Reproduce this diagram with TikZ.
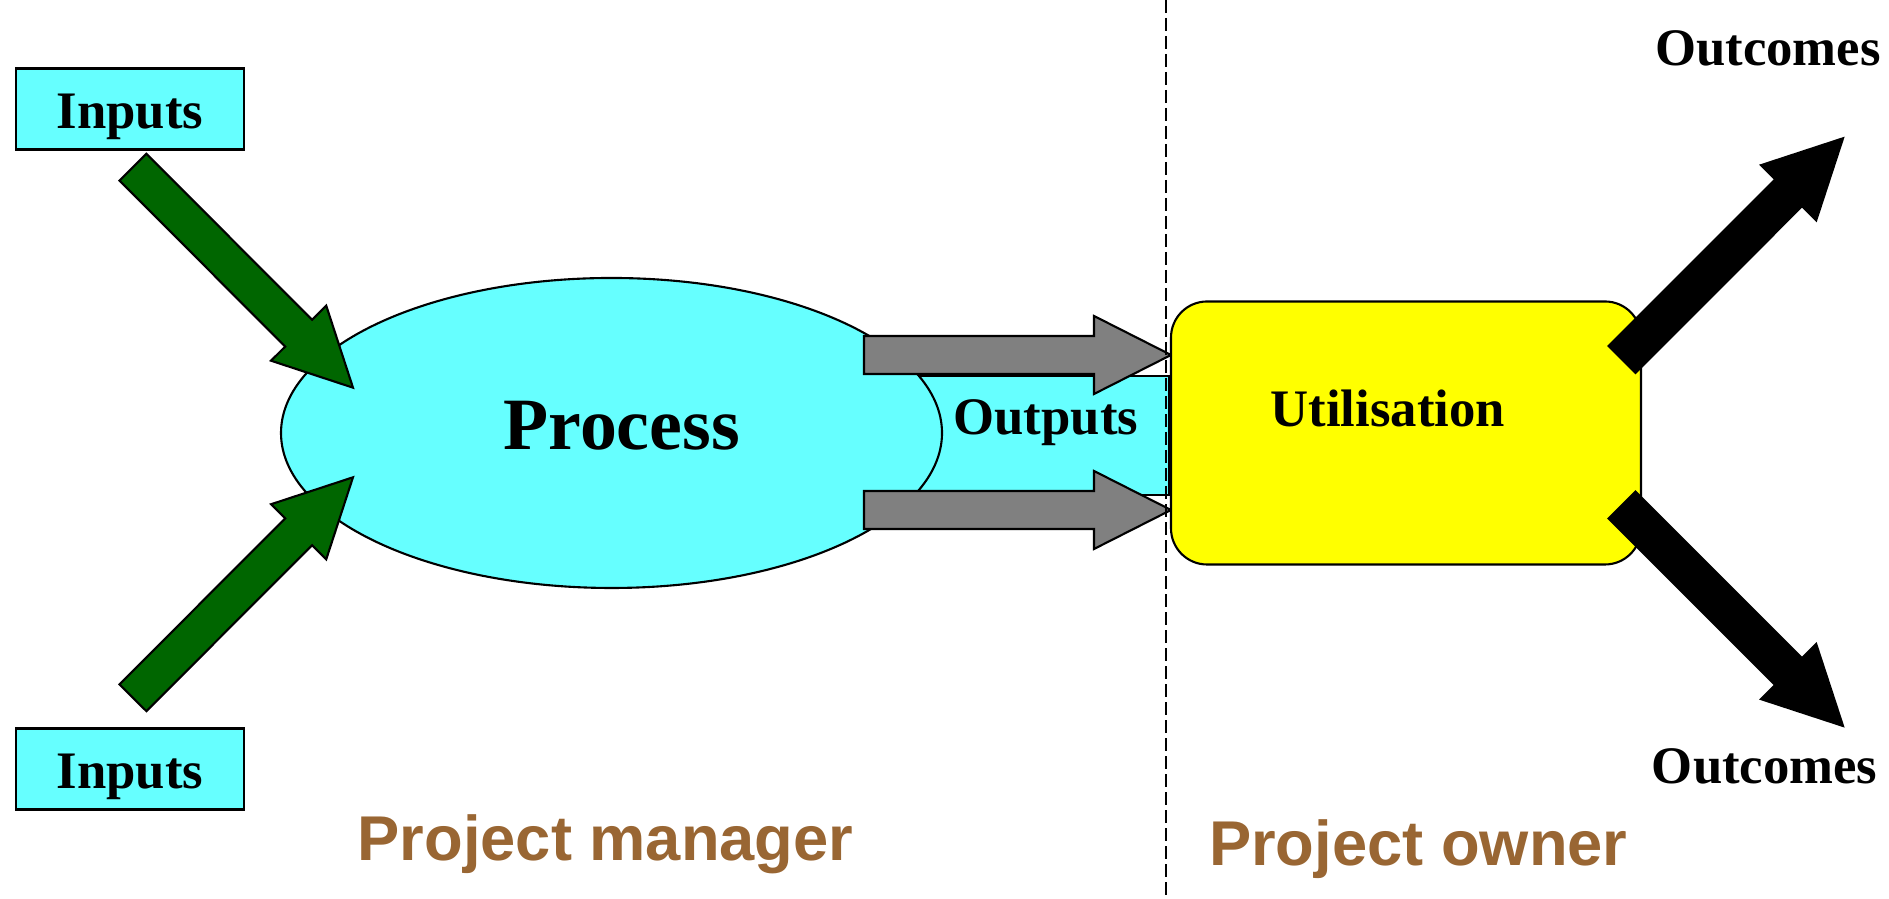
\documentclass[tikz,border=0pt]{standalone}
\usepackage{fontspec}
\setmainfont{Liberation Serif}
\newfontfamily\rolefont{Liberation Sans}
\usepackage{xcolor}
\usepackage{tikz}
\usetikzlibrary{calc,shapes.geometric}
\definecolor{cyanfill}{HTML}{66FFFF}
\definecolor{ingreen}{HTML}{006600}
\definecolor{outgrey}{HTML}{808080}
\definecolor{usefill}{HTML}{FFFF00}
\definecolor{rolebrown}{HTML}{996633}

\begin{document}
\begin{tikzpicture}[
  font=\fontsize{15}{18}\selectfont\bfseries,
  line width=0.6pt,
  inbox/.style={draw=black,fill=cyanfill,minimum width=2.28cm,minimum height=0.81cm,
                inner sep=0pt,text height=0.39cm,text depth=0cm},
  procnode/.style={draw=black,fill=cyanfill,ellipse,minimum width=6.61cm,
                   minimum height=3.1cm,inner sep=0pt},
  band/.style={draw=black,fill=cyanfill,minimum width=3.05cm,minimum height=1.19cm,inner sep=0pt},
  usenode/.style={draw=black,fill=usefill,rounded corners=0.36cm,
                  minimum width=4.7cm,minimum height=2.63cm,inner sep=0pt},
  txt/.style={anchor=base,inner sep=0pt},
  role/.style={anchor=base,inner sep=0pt,text=rolebrown,
               font=\fontsize{18}{22}\selectfont\rolefont\bfseries},
  blockarr/.style={draw=black,line join=miter,to path={
    ($(\tikztostart)!0.19cm!90:(\tikztotarget)$)
    -- ($($(\tikztotarget)!0.77cm!(\tikztostart)$)!0.19cm!90:(\tikztotarget)$)
    -- ($($(\tikztotarget)!0.77cm!(\tikztostart)$)!0.39cm!90:(\tikztotarget)$)
    -- (\tikztotarget)
    -- ($($(\tikztotarget)!0.77cm!(\tikztostart)$)!0.39cm!-90:(\tikztotarget)$)
    -- ($($(\tikztotarget)!0.77cm!(\tikztostart)$)!0.19cm!-90:(\tikztotarget)$)
    -- ($(\tikztostart)!0.19cm!-90:(\tikztotarget)$) -- cycle}}
]
\useasboundingbox (0,0) rectangle (18.89,8.99);

% left side
\node[inbox] (intop) at (1.30,7.90) {Inputs};
\node[inbox] (inbot) at (1.30,1.30) {Inputs};

\node[band]     (outband) at (10.165,4.635) {};
\node[procnode] (proc)    at (6.115,4.66) {};

\coordinate (g1tail) at (1.33,7.318);
\coordinate (g1tip)  at (3.53,5.113);
\coordinate (g2tail) at (1.33,2.012);
\coordinate (g2tip)  at (3.53,4.217);
\draw[blockarr,fill=ingreen] (g1tail) to (g1tip);
\draw[blockarr,fill=ingreen] (g2tail) to (g2tip);

\coordinate (o1tail) at (8.64,5.44);
\coordinate (o1tip)  at (11.71,5.44);
\coordinate (o2tail) at (8.64,3.89);
\coordinate (o2tip)  at (11.71,3.89);
\draw[blockarr,fill=outgrey] (o1tail) to (o1tip);
\draw[blockarr,fill=outgrey] (o2tail) to (o2tip);

% right side
\node[usenode] (use) at (14.06,4.66) {};

\coordinate (b1tail) at (16.22,5.395);
\coordinate (b1tip)  at (18.43,7.607);
\coordinate (b2tail) at (16.22,3.94);
\coordinate (b2tip)  at (18.43,1.73);
\draw[blockarr,fill=black] (b1tail) to (b1tip);
\draw[blockarr,fill=black] (b2tail) to (b2tip);

\coordinate (divtop) at (11.657,8.99);
\coordinate (divbot) at (11.657,0);
\draw[line width=0.55pt,dash pattern=on 0.13cm off 0.05cm] (divtop) -- (divbot);

% texts
\node[txt,font=\fontsize{21}{25}\selectfont\bfseries] (proctxt) at (6.217,4.49) {Process};
\node[txt] (outtxt)  at (10.458,4.64) {Outputs};
\node[txt] (usetxt)  at (13.878,4.723) {Utilisation};
\node[txt] (outctop) at (17.68,8.33) {Outcomes};
\node[txt] (outcbot) at (17.647,1.157) {Outcomes};

\node[role] (pm) at (6.055,0.383) {Project manager};
\node[role] (po) at (14.183,0.33) {Project owner};
\end{tikzpicture}
\end{document}
